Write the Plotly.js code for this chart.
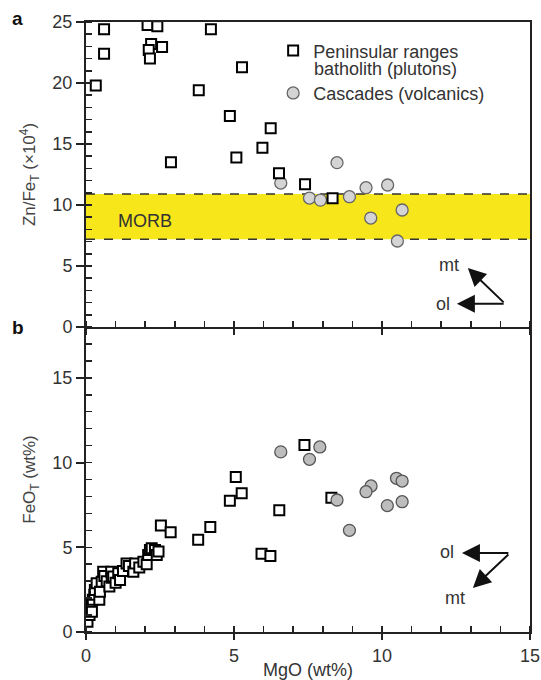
<!DOCTYPE html>
<html>
<head>
<meta charset="utf-8">
<script src="https://cdn.plot.ly/plotly-3.0.1.min.js"></script>
<style>html,body{margin:0;padding:0;background:#fff;}#chart{width:541px;height:680px;}</style>
</head>
<body>
<div id="chart"></div>
<script>
// Panel a: Zn/FeT (x10^4) vs MgO (wt%)
var topSqX = [0.33,0.61,0.61,2.08,2.41,2.2,2.12,2.16,2.57,2.87,4.22,3.81,5.27,4.86,5.08,5.96,6.24,6.52,7.4,8.33];
var topSqY = [19.8,24.4,22.4,24.75,24.65,23.2,22.7,22.0,22.95,13.5,24.4,19.4,21.3,17.3,13.9,14.7,16.3,12.6,11.7,10.55];
var topCiX = [6.58,7.55,7.92,8.48,8.9,9.46,10.19,9.62,10.68,10.52];
var topCiY = [11.8,10.57,10.4,13.47,10.68,11.42,11.64,8.93,9.59,7.05];
// Panel b: FeOT (wt%) vs MgO (wt%)
var botSqX = [0.05,0.12,0.15,0.17,0.2,0.23,0.28,0.3,0.36,0.45,0.47,0.53,0.58,0.62,0.7,0.79,0.85,0.87,0.92,1.0,1.09,1.15,1.25,1.37,1.45,1.6,1.66,1.8,1.94,2.05,2.1,2.16,2.22,2.33,2.39,2.45,2.53,2.86,3.79,4.2,5.06,5.26,4.86,6.53,5.93,6.23,7.38,8.29];
var botSqY = [0.6,1.0,1.3,1.6,1.2,1.9,2.2,2.48,2.87,1.9,2.38,2.97,3.56,3.3,3.0,2.68,3.56,3.2,3.27,2.9,3.46,3.07,3.6,4.05,3.9,3.56,4.05,3.8,4.15,4.0,4.55,4.84,4.94,4.84,4.55,4.75,6.28,5.88,5.45,6.2,9.15,8.19,7.75,7.18,4.62,4.49,11.04,7.93];
var botCiX = [6.58,7.9,7.55,8.48,9.63,9.46,10.49,10.68,10.18,10.68,8.9];
var botCiY = [10.63,10.92,10.19,7.79,8.62,8.28,9.07,8.91,7.46,7.69,6.0];
// MORB range of Zn/FeT
var morbRange = [7.2, 10.9];
var seriesNames = ['Peninsular ranges', 'Cascades (volcanics)'];
var seriesName2ndLine = 'batholith (plutons)';
var xTitle = 'MgO (wt%)';
var yTitleTop = 'Zn/Fe<sub>T</sub> (×10<sup>4</sup>)';
var yTitleBot = 'FeO<sub>T</sub> (wt%)';

var FONT = 'Liberation Sans, Arial, Helvetica, sans-serif';
var sqMarker = {symbol:'square', size:10, color:'#fff', line:{color:'#000', width:2}};
var ciMarkerTop = {symbol:'circle', size:12, color:'#d4d4d4', line:{color:'#666', width:1.3}};
var ciMarkerBot = {symbol:'circle', size:12, color:'#bdbdbd', line:{color:'#555', width:1.3}};

var traces = [
  {x: topCiX, y: topCiY, xaxis:'x2', yaxis:'y2', mode:'markers', type:'scatter', name: seriesNames[1], marker: ciMarkerTop, legendrank:2, legendgroup:'b', showlegend:true},
  {x: topSqX, y: topSqY, xaxis:'x2', yaxis:'y2', mode:'markers', type:'scatter', name: seriesNames[0], marker: sqMarker, legendrank:1, legendgroup:'a', showlegend:true},
  {x: botSqX, y: botSqY, xaxis:'x', yaxis:'y', mode:'markers', type:'scatter', name: seriesNames[0], marker: sqMarker, legendgroup:'a', showlegend:false},
  {x: botCiX, y: botCiY, xaxis:'x', yaxis:'y', mode:'markers', type:'scatter', name: seriesNames[1], marker: ciMarkerBot, legendgroup:'b', showlegend:false}
];

var tickFont = {family: FONT, size: 18, color: '#333'};
var axLine = {showline:true, linecolor:'#222', linewidth:2, showgrid:false, zeroline:false};
var arrowStyle = {showarrow:true, arrowhead:2, arrowsize:1.8, arrowwidth:2, arrowcolor:'#111', standoff:0, startstandoff:0, text:''};

var layout = {
  width: 541, height: 680,
  margin: {l:86, r:11, t:22, b:48},
  paper_bgcolor:'#fff', plot_bgcolor:'rgba(0,0,0,0)',
  font: {family: FONT, size: 18, color:'#333'},
  showlegend: true,
  legend: {x:0.4215, y:0.983, xanchor:'left', yanchor:'top', font:{family:FONT, size:18, color:'#333'}, bgcolor:'rgba(0,0,0,0)', valign:'middle', tracegroupgap:16, traceorder:'grouped', itemclick:false},
  xaxis: Object.assign({}, axLine, {domain:[0,1], anchor:'y', range:[0,15], tickmode:'linear', tick0:0, dtick:5, ticks:'outside', ticklen:6, tickwidth:2, tickcolor:'#222', tickfont: tickFont,
    minor:{ticks:'inside', dtick:1, tick0:0, ticklen:6, tickwidth:1.5, tickcolor:'#222'},
    title:{text: xTitle, font:{family:FONT, size:18, color:'#333'}, standoff:2}}),
  xaxis3: {overlaying:'x', anchor:'y', range:[0,15], tickmode:'linear', tick0:0, dtick:5, ticks:'inside', ticklen:6, tickwidth:2, tickcolor:'#222', showticklabels:false, showline:false, showgrid:false, zeroline:false},
  yaxis: Object.assign({}, axLine, {domain:[0,0.5], anchor:'x', range:[0,18], mirror:true, tickmode:'linear', tick0:0, dtick:5, ticks:'outside', ticklen:8, tickwidth:2, tickcolor:'#222', tickfont: tickFont,
    minor:{ticks:'inside', dtick:1, tick0:0, ticklen:6, tickwidth:1.5, tickcolor:'#222'},
    title:{text: yTitleBot, font:{family:FONT, size:17, color:'#444'}, standoff:12}}),
  xaxis2: Object.assign({}, axLine, {domain:[0,1], anchor:'y2', range:[0,15], mirror:true, tickmode:'linear', tick0:0, dtick:5, ticks:'outside', ticklen:6, tickwidth:2, tickcolor:'#222', showticklabels:false,
    minor:{ticks:'inside', dtick:1, tick0:0, ticklen:6, tickwidth:1.5, tickcolor:'#222'}}),
  xaxis4: {overlaying:'x2', anchor:'y2', range:[0,15], tickmode:'linear', tick0:0, dtick:5, ticks:'inside', ticklen:6, tickwidth:2, tickcolor:'#222', showticklabels:false, showline:false, showgrid:false, zeroline:false},
  yaxis2: Object.assign({}, axLine, {domain:[0.5,1], anchor:'x2', range:[0,25], mirror:true, tickmode:'linear', tick0:0, dtick:5, ticks:'outside', ticklen:8, tickwidth:2, tickcolor:'#222', tickfont: tickFont,
    minor:{ticks:'inside', dtick:1, tick0:0, ticklen:6, tickwidth:1.5, tickcolor:'#222'},
    title:{text: yTitleTop, font:{family:FONT, size:17, color:'#444'}, standoff:12}}),
  shapes: [
    {type:'rect', xref:'x2', yref:'y2', x0:0, x1:15, y0:morbRange[0], y1:morbRange[1], fillcolor:'#f6e61a', line:{width:0}, layer:'below'},
    {type:'line', xref:'x2', yref:'y2', x0:0, x1:15, y0:morbRange[1], y1:morbRange[1], line:{color:'#333', width:1.5, dash:'dash'}, layer:'below'},
    {type:'line', xref:'x2', yref:'y2', x0:0, x1:15, y0:morbRange[0], y1:morbRange[0], line:{color:'#333', width:1.5, dash:'dash'}, layer:'below'}
  ],
  annotations: [
    {text:'<b>a</b>', xref:'paper', yref:'paper', x:-0.172, y:1.005, xanchor:'left', yanchor:'middle', showarrow:false, font:{family:FONT, size:19, color:'#111'}},
    {text:'<b>b</b>', xref:'paper', yref:'paper', x:-0.172, y:0.5, xanchor:'left', yanchor:'middle', showarrow:false, font:{family:FONT, size:19, color:'#111'}},
    {text: seriesName2ndLine, xref:'paper', yref:'paper', x:0.509, y:0.923, xanchor:'left', yanchor:'middle', showarrow:false, font:{family:FONT, size:18, color:'#333'}},
    {text:'MORB', xref:'x2', yref:'y2', x:1.98, y:8.7, showarrow:false, font:{family:FONT, size:18, color:'#333'}},
    // top arrows
    Object.assign({xref:'x2', yref:'y2', axref:'x2', ayref:'y2', x:12.9, y:4.84, ax:14.16, ay:1.9}, arrowStyle),
    Object.assign({xref:'x2', yref:'y2', axref:'x2', ayref:'y2', x:12.53, y:1.9, ax:14.16, ay:1.9}, arrowStyle),
    {text:'mt', xref:'x2', yref:'y2', x:12.25, y:5.1, showarrow:false, font:{family:FONT, size:18, color:'#333'}},
    {text:'ol', xref:'x2', yref:'y2', x:12.05, y:1.9, showarrow:false, font:{family:FONT, size:18, color:'#333'}},
    // bottom arrows
    Object.assign({xref:'x', yref:'y', axref:'x', ayref:'y', x:12.7, y:4.66, ax:14.32, ay:4.66}, arrowStyle),
    Object.assign({xref:'x', yref:'y', axref:'x', ayref:'y', x:13.07, y:2.6, ax:14.32, ay:4.66}, arrowStyle),
    {text:'ol', xref:'x', yref:'y', x:12.2, y:4.7, showarrow:false, font:{family:FONT, size:18, color:'#333'}},
    {text:'mt', xref:'x', yref:'y', x:12.47, y:2.0, showarrow:false, font:{family:FONT, size:18, color:'#333'}}
  ]
};

Plotly.newPlot('chart', traces, layout, {displayModeBar:false, staticPlot:true});
</script>
</body>
</html>
